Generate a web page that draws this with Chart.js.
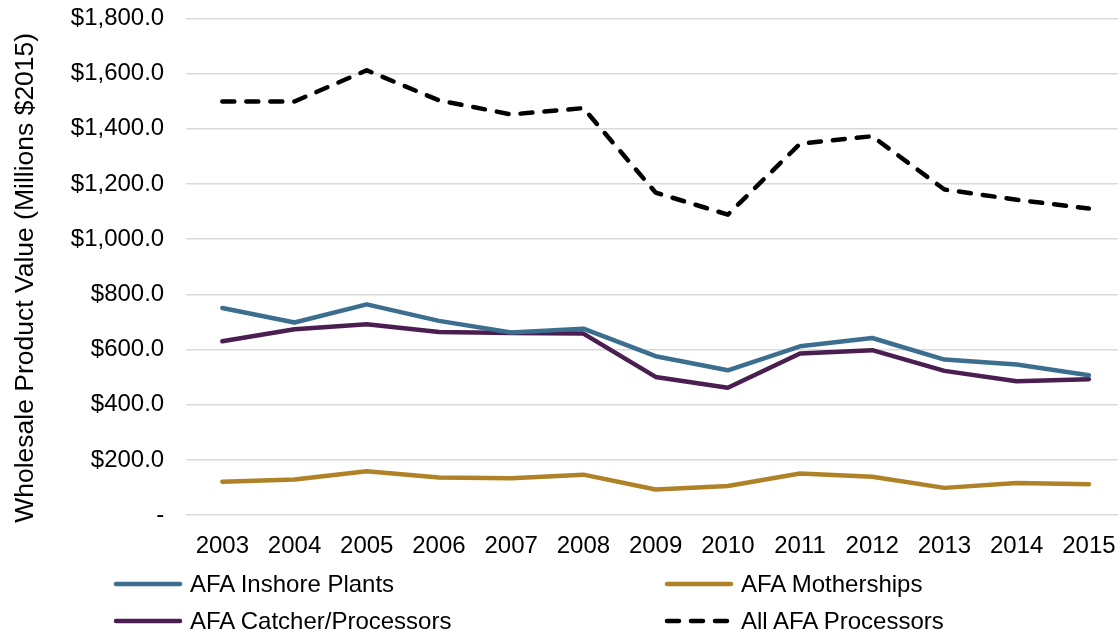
<!DOCTYPE html>
<html>
<head>
<meta charset="utf-8">
<script src="https://cdn.jsdelivr.net/npm/chart.js@4/dist/chart.umd.min.js"></script>
<style>
  html, body { margin: 0; padding: 0; background: #fff; overflow: hidden; }
  #wrap { position: relative; width: 1118px; height: 635px; overflow: hidden; }
  #box { position: absolute; left: 0; top: -18px; width: 1125px; height: 596px; }
  #legend { position: absolute; left: 113px; top: 565px; display: grid;
            grid-template-columns: 551px auto; grid-auto-rows: 37px;
            font-family: "Liberation Sans", Arial, sans-serif; font-size: 24px; color: #000; }
  .item { display: flex; align-items: center; }
  .item canvas { margin-right: 7px; }
</style>
</head>
<body>
<div id="wrap">
  <div id="box"><canvas id="lineChart"></canvas></div>
  <div id="legend"></div>
</div>
<script>
const years = ["2003","2004","2005","2006","2007","2008","2009","2010","2011","2012","2013","2014","2015"];
const inshore = [751, 698, 764, 704, 662, 676, 576, 525, 612, 642, 564, 546, 507];
const motherships = [121, 129, 159, 137, 134, 147, 93, 106, 151, 139, 99, 117, 112];
const catcherProc = [630, 674, 692, 664, 660, 658, 501, 462, 586, 598, 523, 485, 493];
const allProc = [1499, 1499, 1612, 1503, 1452, 1475, 1169, 1089, 1346, 1373, 1180, 1143, 1111];
const yTicks = [0, 200, 400, 600, 800, 1000, 1200, 1400, 1600, 1800];

const FONT = "'Liberation Sans', Arial, sans-serif";

const CHART = document.getElementById("lineChart");
let lineChart = new Chart(CHART, {
    type: 'line',
    data: {
        labels: years,
        datasets: [
        {
            label: 'AFA Inshore Plants',
            data: inshore,
            borderColor: '#3C6E8F',
            borderWidth: 4.5
        },
        {
            label: 'AFA Motherships',
            data: motherships,
            borderColor: '#AF8228',
            borderWidth: 4.5
        },
        {
            label: 'AFA Catcher/Processors',
            data: catcherProc,
            borderColor: '#4B1E51',
            borderWidth: 4.5
        },
        {
            label: 'All AFA Processors',
            data: allProc,
            borderColor: '#000000',
            borderWidth: 4.5,
            borderDash: [12, 12]
        }
        ]
    },
    options: {
        responsive: true,
        maintainAspectRatio: false,
        animation: false,
        layout: { padding: { left: 10, top: 4, right: 0, bottom: 8 } },
        elements: {
            point: { radius: 0 },
            line: { tension: 0, fill: false, borderCapStyle: 'round', borderJoinStyle: 'round' }
        },
        plugins: {
            legend: { display: false },
            tooltip: { enabled: false }
        },
        scales: {
            x: {
                offset: true,
                grid: { display: false },
                border: { display: false },
                ticks: { color: '#000', font: { family: FONT, size: 24 }, padding: 9, maxRotation: 0 }
            },
            y: {
                min: 0,
                max: 1800,
                afterBuildTicks: axis => { axis.ticks = yTicks.map(v => ({ value: v })); },
                grid: { color: '#d9d9d9', lineWidth: 1.5, drawTicks: false },
                border: { display: false },
                ticks: {
                    color: '#000',
                    font: { family: FONT, size: 24 },
                    padding: 22,
                    callback: v => v === 0 ? '-' : '$' + v.toLocaleString('en-US', { minimumFractionDigits: 1 })
                },
                title: {
                    display: true,
                    text: 'Wholesale Product Value (Millions $2015)   ',
                    color: '#000',
                    font: { family: FONT, size: 26.5 },
                    padding: { top: 0, bottom: 7 }
                }
            }
        }
    }
});

// two-column legend built from the datasets
const legendEl = document.getElementById("legend");
lineChart.data.datasets.forEach(ds => {
    const item = document.createElement("div");
    item.className = "item";
    const sw = document.createElement("canvas");
    sw.width = 70; sw.height = 10;
    const ctx = sw.getContext("2d");
    ctx.strokeStyle = ds.borderColor;
    ctx.lineWidth = ds.borderWidth;
    ctx.lineCap = 'round';
    if (ds.borderDash) ctx.setLineDash(ds.borderDash);
    ctx.beginPath(); ctx.moveTo(3, 5); ctx.lineTo(67, 5); ctx.stroke();
    item.appendChild(sw);
    const span = document.createElement("span");
    span.textContent = ds.label;
    item.appendChild(span);
    legendEl.appendChild(item);
});
</script>
</body>
</html>
